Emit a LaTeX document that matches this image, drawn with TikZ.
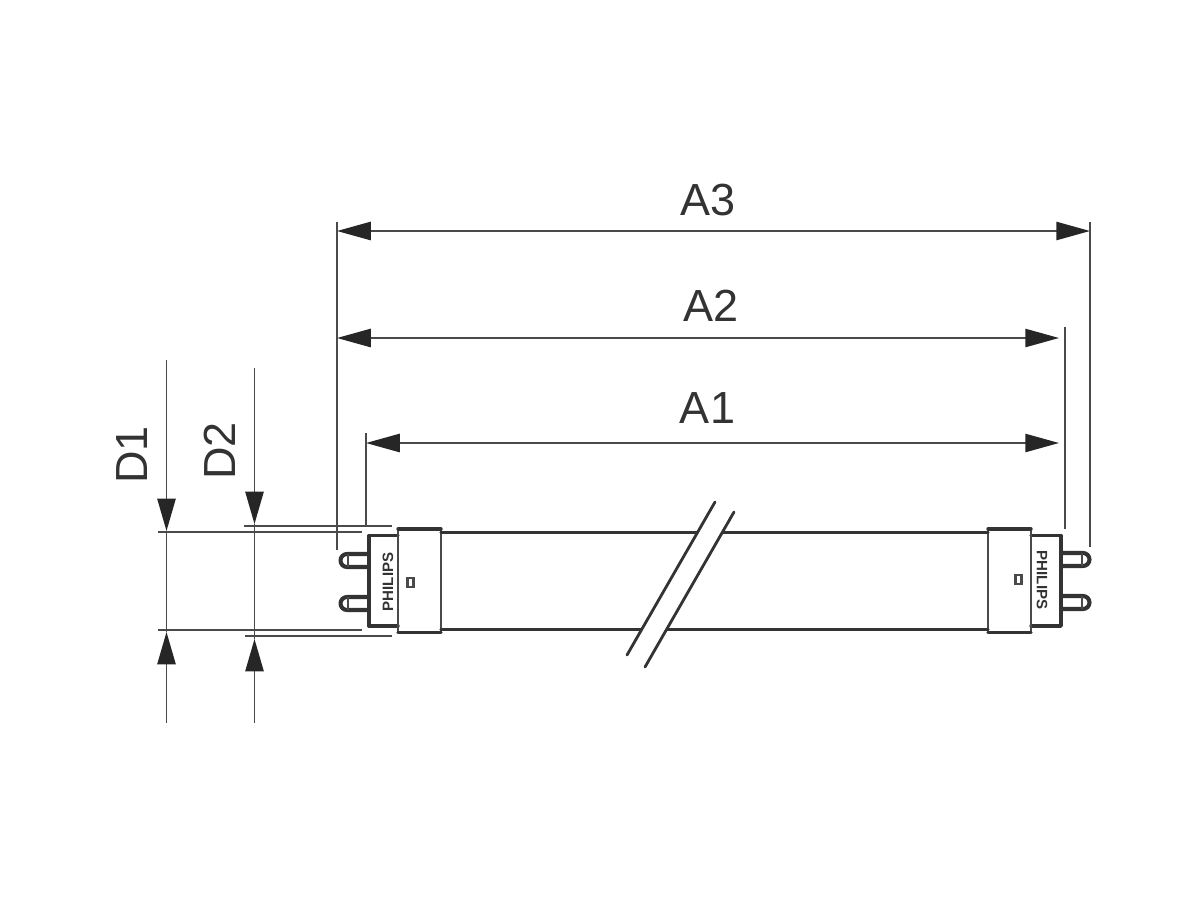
\documentclass[tikz,border=0pt]{standalone}
\usepackage{fontspec}
\setmainfont{Liberation Sans}
\usetikzlibrary{arrows.meta}
\definecolor{dimgray}{HTML}{4A4A4A}
\definecolor{tubegray}{HTML}{333333}
\tikzset{
  dimline/.style={draw=dimgray, line width=1.2pt},
  dimarrow/.style={dimline, -{Triangle[length=23pt,width=13pt,color=black!85]}},
  dimdouble/.style={dimline, {Triangle[length=24pt,width=13pt,color=black!85]}-{Triangle[length=24pt,width=13pt,color=black!85]}},
  dimlabel/.style={text=tubegray, inner sep=0pt, font=\fontsize{32}{32}\selectfont},
  tubethick/.style={draw=tubegray, line width=2.4pt, line cap=round, line join=round},
  pinline/.style={tubethick, line width=2.9pt},
  tubethin/.style={draw=dimgray, line width=1.5pt},
  brand/.style={text=tubegray, inner sep=0pt, font=\bfseries\fontsize{10.7}{10.7}\selectfont}
}
\begin{document}
\begin{tikzpicture}[x=0.025cm,y=-0.025cm]
\useasboundingbox (0,0) rectangle (1200,900);
% length dimensions
\coordinate (a3left) at (337,231);
\coordinate (a3right) at (1090,231);
\coordinate (a2left) at (337,338);
\coordinate (a2right) at (1059,338);
\coordinate (a1left) at (366,443);
\coordinate (a1right) at (1059,443);
\draw [dimdouble] (a3left) -- (a3right);
\draw [dimdouble] (a2left) -- (a2right);
\draw [dimdouble] (a1left) -- (a1right);
\draw [dimline] (337,222) -- (337,550);
\draw [dimline] (366,433) -- (366,527);
\draw [dimline] (1065,327) -- (1065,529);
\draw [dimline] (1090,222) -- (1090,547);
\node [dimlabel] (labela3) at (708,200) {A3};
\node [dimlabel] (labela2) at (711,306) {A2};
\node [dimlabel] (labela1) at (707.5,408) {A1};
% diameter dimensions
\coordinate (d1top) at (166.5,360);
\coordinate (d1upper) at (166.5,531);
\coordinate (d1lower) at (166.5,632);
\coordinate (d1bottom) at (166.5,723);
\coordinate (d2top) at (254.5,368);
\coordinate (d2upper) at (254.5,524);
\coordinate (d2lower) at (254.5,639);
\coordinate (d2bottom) at (254.5,723);
\draw [dimarrow] (d1top) -- (d1upper);
\draw [dimarrow] (d1bottom) -- (d1lower);
\draw [dimarrow] (d2top) -- (d2upper);
\draw [dimarrow] (d2bottom) -- (d2lower);
\draw [dimline] (d1upper) -- (d1lower);
\draw [dimline] (d2upper) -- (d2lower);
\draw [dimline] (158,532) -- (362,532);
\draw [dimline] (158,630) -- (362,630);
\draw [dimline] (244,526) -- (392,526);
\draw [dimline] (245,636) -- (392,636);
\node [dimlabel, rotate=90] (labeld1) at (132,455) {D1};
\node [dimlabel, rotate=90] (labeld2) at (220,451) {D2};
% pins
\draw [pinline] (369,554) -- (347,554) arc (-90:-270:6.5) -- (369,567);
\draw [tubethin] (348,554) -- (348,567);
\draw [pinline] (369,597) -- (347,597) arc (-90:-270:6.5) -- (369,610);
\draw [tubethin] (348,597) -- (348,610);
\draw [pinline] (1061,553) -- (1083,553) arc (-90:90:6.5) -- (1061,566);
\draw [tubethin] (1082,553) -- (1082,566);
\draw [pinline] (1061,596) -- (1083,596) arc (-90:90:6.5) -- (1061,609);
\draw [tubethin] (1082,596) -- (1082,609);
% tube
\draw [tubethick] (398,535.5) -- (369,535.5) -- (369,626) -- (398,626);
\draw [tubethin] (398,529) -- (398,632.5);
\draw [tubethin] (441,529) -- (441,632.5);
\draw [tubethick] (398,529) -- (441,529);
\draw [tubethick] (398,632.5) -- (441,632.5);
\draw [tubethick] (1031,535.5) -- (1061,535.5) -- (1061,626) -- (1031,626);
\draw [tubethin] (988,529) -- (988,632.5);
\draw [tubethin] (1031,529) -- (1031,632.5);
\draw [tubethick] (988,529) -- (1031,529);
\draw [tubethick] (988,632.5) -- (1031,632.5);
\draw [tubethick] (441,532.5) -- (697,532.5);
\draw [tubethick] (723,532.5) -- (988,532.5);
\draw [tubethick] (441,629.5) -- (641,629.5);
\draw [tubethick] (667,629.5) -- (988,629.5);
% break marks
\draw [tubethick, line width=2pt] (715,502) -- (627,655);
\draw [tubethick, line width=2pt] (734,512) -- (645,667);
% markings
\node [brand, rotate=90] (brandleft) at (388,582) {PHILIPS};
\node [brand, rotate=-90] (brandright) at (1042,580) {PHILIPS};
\draw [tubethin] (407.5,578) rectangle (413.5,587);
\draw [tubethin] (1015.5,575) rectangle (1021.5,584);
\end{tikzpicture}
\end{document}
